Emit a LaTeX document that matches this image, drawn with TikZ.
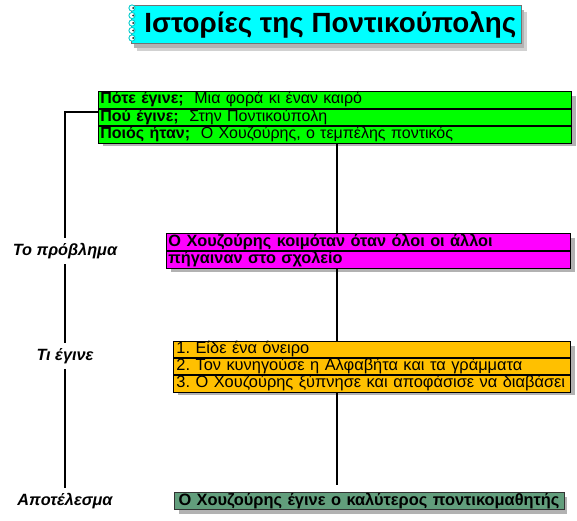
\documentclass[tikz,border=0pt]{standalone}
\usepackage{fontspec}
\setmainfont{Liberation Sans}
\frenchspacing
\definecolor{mygreen}{RGB}{0,255,0}
\definecolor{mymag}{RGB}{255,0,255}
\definecolor{myorange}{RGB}{255,192,0}
\definecolor{mycyan}{RGB}{0,255,255}
\definecolor{mysea}{RGB}{98,158,124}
\definecolor{shad}{RGB}{178,178,178}
\begin{document}
\begin{tikzpicture}[x=1pt,y=-1pt,
  rowbox/.style={draw=black, line width=0.8pt, anchor=north west, inner xsep=2pt, inner ysep=0pt,
    align=left, minimum height=#1, text height=12pt, text depth=3.8pt, font=\fontsize{16}{17}\selectfont},
  rowbox/.default=16.7pt,
  sidelabel/.style={font=\fontsize{16.3}{17}\selectfont\bfseries\itshape, fill=white, inner xsep=2pt, inner ysep=5pt},
  link/.style={line width=1.6pt, black}
]
\useasboundingbox (0,0) rectangle (577,520);

% ---------- title ----------
\fill[shad!60] (137,12) rectangle (527,51);
\fill[shad] (134,10) rectangle (524,48);
\node[fill=mycyan, draw=black!55, line width=0.6pt, anchor=north west, minimum width=390pt, minimum height=38pt, inner sep=0pt]
  (title) at (131,5) {};
\node[font=\fontsize{27.8}{30}\selectfont\bfseries, inner sep=0pt] (ttext) at ([xshift=4pt,yshift=-1pt]title.center) {Ιστορίες της Ποντικούπολης};
\foreach \yy in {8,15.5,23,30.5,38} {
  \draw[mycyan!80!black, line width=0.9pt, fill=white] (132,\yy) circle (3.1pt);
  \fill[black!80] (133.2,\yy) circle (1.1pt);
}

% ---------- green block ----------
\fill[shad] (103,96) rectangle (576,146);
\node[rowbox, fill=mygreen, text width=469pt] (g1) at (98,91)
  {\textbf{Πότε έγινε;}\ \ Μια φορά κι έναν καιρό};
\node[rowbox, fill=mygreen, text width=469pt] (g2) at (g1.south west)
  {\textbf{Πού έγινε;}\ \ Στην Ποντικούπολη};
\node[rowbox, fill=mygreen, text width=469pt] (g3) at (g2.south west)
  {\textbf{Ποιός ήταν;}\ \ Ο Χουζούρης, ο τεμπέλης ποντικός};

% ---------- magenta block ----------
\fill[shad] (171,238) rectangle (575,272);
\node[rowbox, fill=mymag, text width=400pt, font=\fontsize{16.3}{17}\selectfont\bfseries] (m1) at (166,233.3)
  {Ο Χουζούρης κοιμόταν όταν όλοι οι άλλοι};
\node[rowbox, fill=mymag, text width=400pt, font=\fontsize{16.3}{17}\selectfont\bfseries] (m2) at (m1.south west)
  {πήγαιναν στο σχολείο};

% ---------- orange block ----------
\fill[shad] (178,346) rectangle (575,395);
\node[rowbox=16.4pt, fill=myorange, text width=391pt, inner xsep=3pt, font=\fontsize{16.4}{17}\selectfont] (o1) at (173,340.7)
  {1. Είδε ένα όνειρο};
\node[rowbox=16.4pt, fill=myorange, text width=391pt, inner xsep=3pt, font=\fontsize{16.4}{17}\selectfont] (o2) at (o1.south west)
  {2. Τον κυνηγούσε η Αλφαβήτα και τα γράμματα};
\node[rowbox=16.4pt, fill=myorange, text width=391pt, inner xsep=3pt, font=\fontsize{16.4}{17}\selectfont] (o3) at (o2.south west)
  {3. Ο Χουζούρης ξύπνησε και αποφάσισε να διαβάσει};

% ---------- result block ----------
\fill[shad] (179,497) rectangle (567,514);
\node[rowbox=17pt, fill=mysea, draw=black!80, line width=1pt, text width=382pt, inner xsep=4pt,
  font=\fontsize{16.4}{17}\selectfont\bfseries] (r1) at (174,492.3)
  {Ο Χουζούρης έγινε ο καλύτερος ποντικομαθητής};

% ---------- side labels ----------
\node[sidelabel] (l1) at (65,251) {Το πρόβλημα};
\node[sidelabel] (l2) at (65,356) {Τι έγινε};
\node[sidelabel] (l3) at (65,501) {Αποτέλεσμα};

% ---------- connectors ----------
\draw[link] ([yshift=5pt]g2.west) -| (l1.north);
\draw[link] (l1.south) -- (l2.north);
\draw[link] (l2.south) -- (l3.north);

\coordinate (cx) at ([xshift=2pt]g3.south);
\draw[link] (cx) -- (cx |- m1.north);
\draw[link] (cx |- m2.south) -- (cx |- o1.north);
\draw[link, shorten >=7pt] (cx |- o3.south) -- (cx |- r1.north);
\end{tikzpicture}
\end{document}
